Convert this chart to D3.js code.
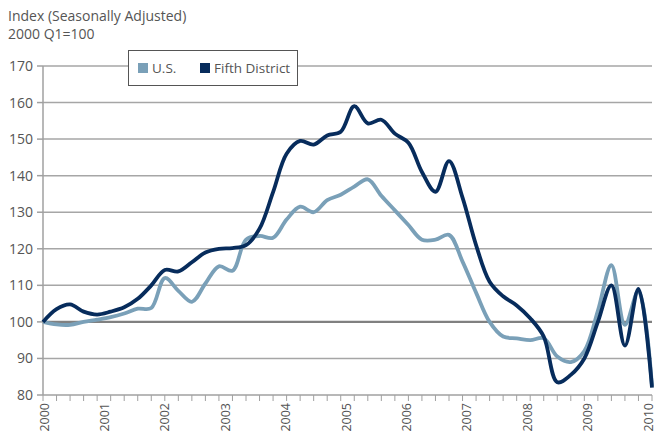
<!DOCTYPE html>
<html lang="en">
  <head>
    <meta charset="utf-8">
    <title>House Price Index</title>
    <script src="https://d3js.org/d3.v7.min.js"></script>
    <style>
      body { margin: 0; background: #fff; }
      text { font-family: "Open Sans", sans-serif; fill: #555; }
    </style>
  </head>
  <body>
    <div id="chart"></div>
    <script>
    // quarterly index, 2000 Q1 = 100
    var usValues = [100, 99.3, 99.2, 100, 100.6, 101.3, 102.3, 103.6, 103.8, 112, 108.5, 105.5, 110.5, 115.2, 114,
      122.5, 123.5, 123, 128, 131.5, 130, 133.3, 134.8, 137, 139, 134.5, 130.5, 126.5, 122.5, 122.5,
      123.8, 116.5, 108, 100, 96, 95.5, 95, 95.5, 90.5, 89, 92, 103, 115.5, 99.2, 108.5, 82.5];
    var fifthValues = [100, 103.5, 104.8, 102.8, 102, 102.8, 104, 106.3, 110, 114.2, 113.8, 116.3, 119, 120, 120.2,
      121, 125.5, 135.5, 146, 149.5, 148.5, 151, 152, 159, 154.3, 155.3, 151.5, 149, 141, 135.6,
      144, 134, 121, 111, 107, 104.5, 101, 96, 83.5, 85.5, 90, 100, 110, 93.5, 109, 82];
    var yearLabels = ["2000", "2001", "2002", "2003", "2004", "2005", "2006", "2007", "2008", "2009", "2010"];
    var yTicks = [80, 90, 100, 110, 120, 130, 140, 150, 160, 170];
    var seriesNames = ["U.S.", "Fifth District"];

    var width = 654, height = 438;
    var margin = {top: 66, right: 2, bottom: 43, left: 43};

    var svg = d3.select("#chart").append("svg")
      .attr("width", width)
      .attr("height", height);

    var x = d3.scaleLinear()
      .domain([0, usValues.length - 1])
      .range([margin.left, width - margin.right]);

    var xYear = d3.scaleLinear()
      .domain([2000, 2010])
      .range([margin.left + 1, width - margin.right - 4]);

    var y = d3.scaleLinear()
      .domain([80, 170])
      .range([height - margin.bottom, margin.top]);

    var color = d3.scaleOrdinal()
      .domain(seriesNames)
      .range(["#7aa0b8", "#072c5c"]);

    // gridlines
    svg.selectAll(".grid")
      .data(yTicks.filter(function(d){ return d > 80 }))
      .enter()
      .append("line")
        .attr("x1", margin.left)
        .attr("x2", width - margin.right)
        .attr("y1", function(d){ return y(d) })
        .attr("y2", function(d){ return y(d) })
        .attr("stroke", function(d){ return d == 100 ? "#808080" : "#a6a6a6" })
        .attr("stroke-width", function(d){ return d == 100 ? 2.2 : 1.5 });

    // y axis
    svg.append("line")
      .attr("x1", margin.left).attr("x2", margin.left)
      .attr("y1", y(170)).attr("y2", y(80))
      .attr("stroke", "#a0a0a0").attr("stroke-width", 1.5);

    svg.selectAll(".ytick")
      .data(yTicks)
      .enter()
      .append("line")
        .attr("x1", margin.left - 6).attr("x2", margin.left)
        .attr("y1", function(d){ return y(d) })
        .attr("y2", function(d){ return y(d) })
        .attr("stroke", "#a0a0a0").attr("stroke-width", 1.5);

    svg.selectAll(".ylab")
      .data(yTicks)
      .enter()
      .append("text")
        .attr("x", margin.left - 10)
        .attr("y", function(d){ return y(d) + 5 })
        .attr("text-anchor", "end")
        .attr("font-size", "14px")
        .text(function(d){ return d });

    // x axis
    svg.append("line")
      .attr("x1", margin.left).attr("x2", width - margin.right)
      .attr("y1", y(80)).attr("y2", y(80))
      .attr("stroke", "#a0a0a0").attr("stroke-width", 1.5);

    svg.selectAll(".xtick")
      .data(d3.range(usValues.length))
      .enter()
      .append("line")
        .attr("x1", function(d){ return x(d) })
        .attr("x2", function(d){ return x(d) })
        .attr("y1", y(80)).attr("y2", y(80) + 6)
        .attr("stroke", "#a0a0a0").attr("stroke-width", 1);

    svg.selectAll(".xlab")
      .data(yearLabels)
      .enter()
      .append("text")
        .attr("transform", function(d){ return "translate(" + (xYear(+d) + 4.5) + "," + (y(80) + 8) + ") rotate(-90)" })
        .attr("text-anchor", "end")
        .attr("font-size", "12.5px")
        .text(function(d){ return d });

    // lines
    var line = d3.line()
      .x(function(d, i){ return x(i) })
      .y(function(d){ return y(d) })
      .curve(d3.curveCatmullRom.alpha(0.5));

    svg.append("path")
      .attr("d", line(usValues))
      .attr("fill", "none")
      .attr("stroke", color("U.S."))
      .attr("stroke-width", 3.8)
      .attr("stroke-linejoin", "round");

    svg.append("path")
      .attr("d", line(fifthValues))
      .attr("fill", "none")
      .attr("stroke", color("Fifth District"))
      .attr("stroke-width", 3.8)
      .attr("stroke-linejoin", "round");

    // title
    svg.append("text")
      .attr("x", 8).attr("y", 21)
      .attr("font-size", "14px")
      .text("Index (Seasonally Adjusted)");
    svg.append("text")
      .attr("x", 8).attr("y", 39)
      .attr("font-size", "14px")
      .text("2000 Q1=100");

    // legend
    var legend = svg.append("g").attr("transform", "translate(128,50)");
    legend.append("rect")
      .attr("x", 0.5).attr("y", 0.5)
      .attr("width", 169).attr("height", 35)
      .attr("fill", "#fff")
      .attr("stroke", "#555").attr("stroke-width", 1);

    var legendX = [10, 72];
    legend.selectAll(".sw")
      .data(seriesNames)
      .enter()
      .append("rect")
        .attr("x", function(d, i){ return legendX[i] })
        .attr("y", 13)
        .attr("width", 10).attr("height", 10)
        .attr("fill", function(d){ return color(d) });

    legend.selectAll(".lt")
      .data(seriesNames)
      .enter()
      .append("text")
        .attr("x", function(d, i){ return legendX[i] + 14 })
        .attr("y", 23)
        .attr("font-size", "13.5px")
        .text(function(d){ return d });
    </script>
  </body>
</html>
